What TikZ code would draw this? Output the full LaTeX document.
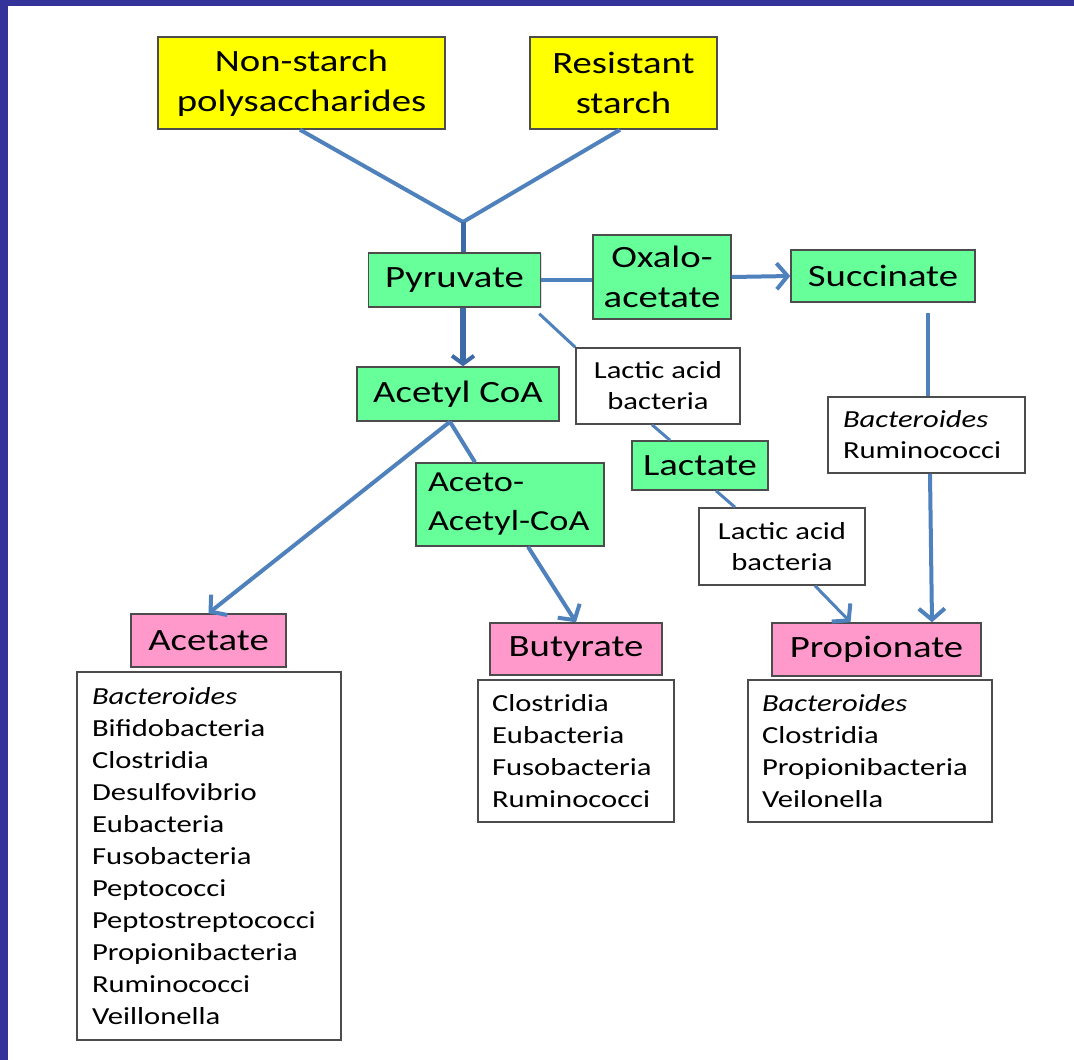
\documentclass[tikz,border=0pt]{standalone}
\usepackage{fontspec}
\setmainfont{Carlito}[FakeStretch=1.25]
\usetikzlibrary{arrows.meta,shadows}
\definecolor{frameblue}{HTML}{333399}
\definecolor{lineblue}{HTML}{4F81BD}
\definecolor{darkblue}{HTML}{3D6BA8}
\definecolor{ybox}{HTML}{FFFF00}
\definecolor{gbox}{HTML}{66FF99}
\definecolor{pbox}{HTML}{FF99CC}
\tikzset{
  boxbase/.style={draw=black!70, line width=1.5pt, inner sep=0pt,
    drop shadow={shadow xshift=1.2pt, shadow yshift=-1.2pt, opacity=0.25}},
  bigfont/.style={font=\fontsize{31}{40}\selectfont},
  smallfont/.style={font=\fontsize{24.5}{32}\selectfont},
  yellowbox/.style={boxbase, fill=ybox, bigfont, align=center},
  greenbox/.style={boxbase, fill=gbox, bigfont, align=center},
  pinkbox/.style={boxbase, fill=pbox, bigfont, align=center},
  whitebox/.style={boxbase, fill=white, smallfont},
  conn/.style={draw=lineblue, line width=4pt},
  thickconn/.style={draw=darkblue, line width=6.5pt},
  arr/.style={-{Straight Barb[length=11pt,width=26pt,line width=4pt]}},
  thickarr/.style={-{Straight Barb[length=8pt,width=22pt,line width=4pt]}},
}
\begin{document}
\begin{tikzpicture}[x=1pt,y=-1pt]
\useasboundingbox (0,0) rectangle (1074,1060);
\fill[frameblue] (0,0) rectangle (1074,1060);
\fill[white] (8,6) rectangle (1074,1060);

% nodes
\node[yellowbox, minimum width=287pt, minimum height=92pt] (nsp) at (301.5,83) {Non-starch\\polysaccharides};
\node[yellowbox, minimum width=187pt, minimum height=92pt] (rs) at (623.5,83) {Resistant\\starch};
\node[greenbox, minimum width=172pt, minimum height=54pt] (pyr) at (454.5,280) {Pyruvate};
\node[greenbox, minimum width=138pt, minimum height=84pt] (oxa) at (662,277) {Oxalo-\\acetate};
\node[greenbox, minimum width=184pt, minimum height=52pt] (suc) at (883,276) {Succinate};
\node[greenbox, minimum width=202pt, minimum height=54pt] (acoa) at (458,394) {Acetyl CoA};
\node[whitebox, align=center, minimum width=164pt, minimum height=76pt, font=\fontsize{24.5}{31}\selectfont] (lab1) at (658,386) {Lactic acid\\bacteria};
\node[greenbox, minimum width=136pt, minimum height=49pt] (lac) at (700,465.5) {Lactate};
\node[whitebox, align=center, minimum width=166pt, minimum height=77pt, font=\fontsize{24.5}{31}\selectfont] (lab2) at (782,546.5) {Lactic acid\\bacteria};
\node[whitebox, align=left, text width=167pt, inner xsep=15pt, minimum height=76pt, font=\fontsize{24.5}{31}\selectfont] (bac) at (926.5,435) {\textit{Bacteroides}\\Ruminococci};
\node[greenbox, align=left, text width=164pt, inner xsep=12pt, minimum height=83pt, font=\fontsize{29}{39}\selectfont] (aac) at (510,504.5) {Aceto-\\Acetyl-CoA};
\node[pinkbox, minimum width=155pt, minimum height=53pt] (acet) at (208.5,640.5) {Acetate};
\node[pinkbox, minimum width=172pt, minimum height=52pt] (but) at (576,649) {Butyrate};
\node[pinkbox, minimum width=209pt, minimum height=53pt] (prop) at (876.5,649.5) {Propionate};

\node[whitebox, align=left, text width=234pt, inner xsep=15pt, minimum height=368pt] (acetlist) at (209,856)
  {\textit{Bacteroides}\\Bifidobacteria\\Clostridia\\Desulfovibrio\\Eubacteria\\Fusobacteria\\Peptococci\\Peptostreptococci\\Propionibacteria\\Ruminococci\\Veillonella};
\node[whitebox, align=left, text width=168pt, inner xsep=14pt, minimum height=142pt] (butlist) at (576,751)
  {Clostridia\\Eubacteria\\Fusobacteria\\Ruminococci};
\node[whitebox, align=left, text width=216pt, inner xsep=14pt, minimum height=142pt] (proplist) at (870,751)
  {\textit{Bacteroides}\\Clostridia\\Propionibacteria\\Veilonella};

% connectors
\coordinate (j) at (463,222);
\draw[conn] ([xshift=-1.5pt]nsp.south) -- (j);
\draw[conn] ([xshift=-3.5pt]rs.south) -- (j);
\draw[thickconn, line width=5pt] (j) -- (j |- pyr.north);
\draw[thickconn, thickarr] ([xshift=8.5pt]pyr.south) -- ([xshift=5pt]acoa.north);
\draw[conn] (pyr.east) -- (pyr.east -| oxa.west);
\draw[conn, arr] (oxa.east) -- (suc.west);
\draw[conn, line width=3pt] ([shift={(-2pt,-6pt)}]pyr.south east) -- (lab1.north west);
\draw[conn, line width=3pt] ([xshift=-6pt]lab1.south) -- ([xshift=-30pt]lac.north);
\draw[conn, line width=3pt] ([xshift=16pt]lac.south) -- ([xshift=-47pt]lab2.north);
\draw[conn, arr, line width=3pt] ([xshift=33pt]lab2.south) -- ([xshift=-26pt]prop.north);
\draw[conn] ([shift={(45pt,-10pt)}]suc.south) -- ([xshift=1.5pt]bac.north);
\draw[conn, arr] ([xshift=3.5pt]bac.south) -- ([xshift=55.5pt]prop.north);
\draw[conn, arr] ([xshift=-8pt]acoa.south) -- (acet.north);
\draw[conn] ([xshift=-8pt]acoa.south) -- ([xshift=-35pt]aac.north);
\draw[conn, arr] ([xshift=18pt]aac.south) -- (but.north);
\end{tikzpicture}
\end{document}
